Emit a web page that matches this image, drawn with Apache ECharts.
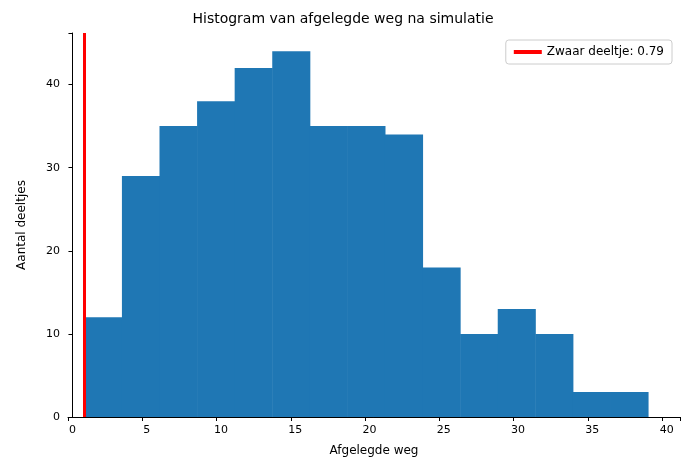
<!DOCTYPE html><html><head><meta charset="utf-8"><script src="https://cdn.jsdelivr.net/npm/echarts@6/dist/echarts.min.js"></script></head><body style="margin:0"><div id="c" style="width:686px;height:470px"></div><script>
const binStart = 0.8, binWidth = 2.53;
const counts = [12,29,35,38,42,44,35,35,34,18,10,13,10,3,3];
const heavy = 0.79;
const xTicks = [0,5,10,15,20,25,30,35,40];
const yTicks = [0,10,20,30,40];
const bars = counts.map((c,i)=>[binStart+i*binWidth, binStart+(i+1)*binWidth, c]);
const chart = echarts.init(document.getElementById('c'));
const font = 'DejaVu Sans';
chart.setOption({
  animation:false,
  textStyle:{fontFamily:font},
  title:{text:'Histogram van afgelegde weg na simulatie',left:'center',top:7,textStyle:{fontFamily:font,fontSize:14,fontWeight:'normal',color:'#000'}},
  legend:{right:14,top:40,orient:'vertical',backgroundColor:'#fff',borderColor:'#ccc',borderWidth:1,borderRadius:3,padding:[6,8],itemWidth:28,itemHeight:4,textStyle:{fontFamily:font,fontSize:12,color:'#000'},data:[{name:'Zwaar deeltje: 0.79',icon:'rect',itemStyle:{color:'red'}}]},
  grid:{left:68,right:6,top:33,bottom:53},
  xAxis:{type:'value',min:-0.3,max:40.9,interval:5,name:'Afgelegde weg',nameLocation:'middle',nameGap:28,nameTextStyle:{fontSize:12,color:'#000'},
    axisLine:{show:true,onZero:false,lineStyle:{color:'#000'}},axisTick:{show:true,length:4,lineStyle:{color:'#000'}},
    axisLabel:{color:'#000',fontSize:11,customValues:xTicks,formatter:v=>xTicks.includes(v)?String(v):''},splitLine:{show:false}},
  yAxis:{type:'value',min:0,max:46.2,interval:10,name:'Aantal deeltjes',nameLocation:'middle',nameGap:40,nameTextStyle:{fontSize:12,color:'#000'},
    axisLine:{show:true,lineStyle:{color:'#000'}},axisTick:{show:true,length:4,lineStyle:{color:'#000'}},
    axisLabel:{color:'#000',fontSize:11,formatter:v=>yTicks.includes(v)?String(v):''},splitLine:{show:false}},
  series:[
    {type:'custom',data:bars,renderItem:(p,api)=>{const a=api.coord([api.value(0),api.value(2)]);const b=api.coord([api.value(1),0]);return {type:'rect',shape:{x:a[0],y:a[1],width:b[0]-a[0]+0.5,height:b[1]-a[1]},style:{fill:'#1f77b4'}};},encode:{x:[0,1],y:2},silent:true},
    {type:'line',name:'Zwaar deeltje: 0.79',data:[],itemStyle:{color:'red'},lineStyle:{color:'red'},
     markLine:{silent:true,symbol:'none',label:{show:false},lineStyle:{color:'red',width:3,type:'solid'},data:[{xAxis:heavy}]}}
  ]
});
</script></body></html>
